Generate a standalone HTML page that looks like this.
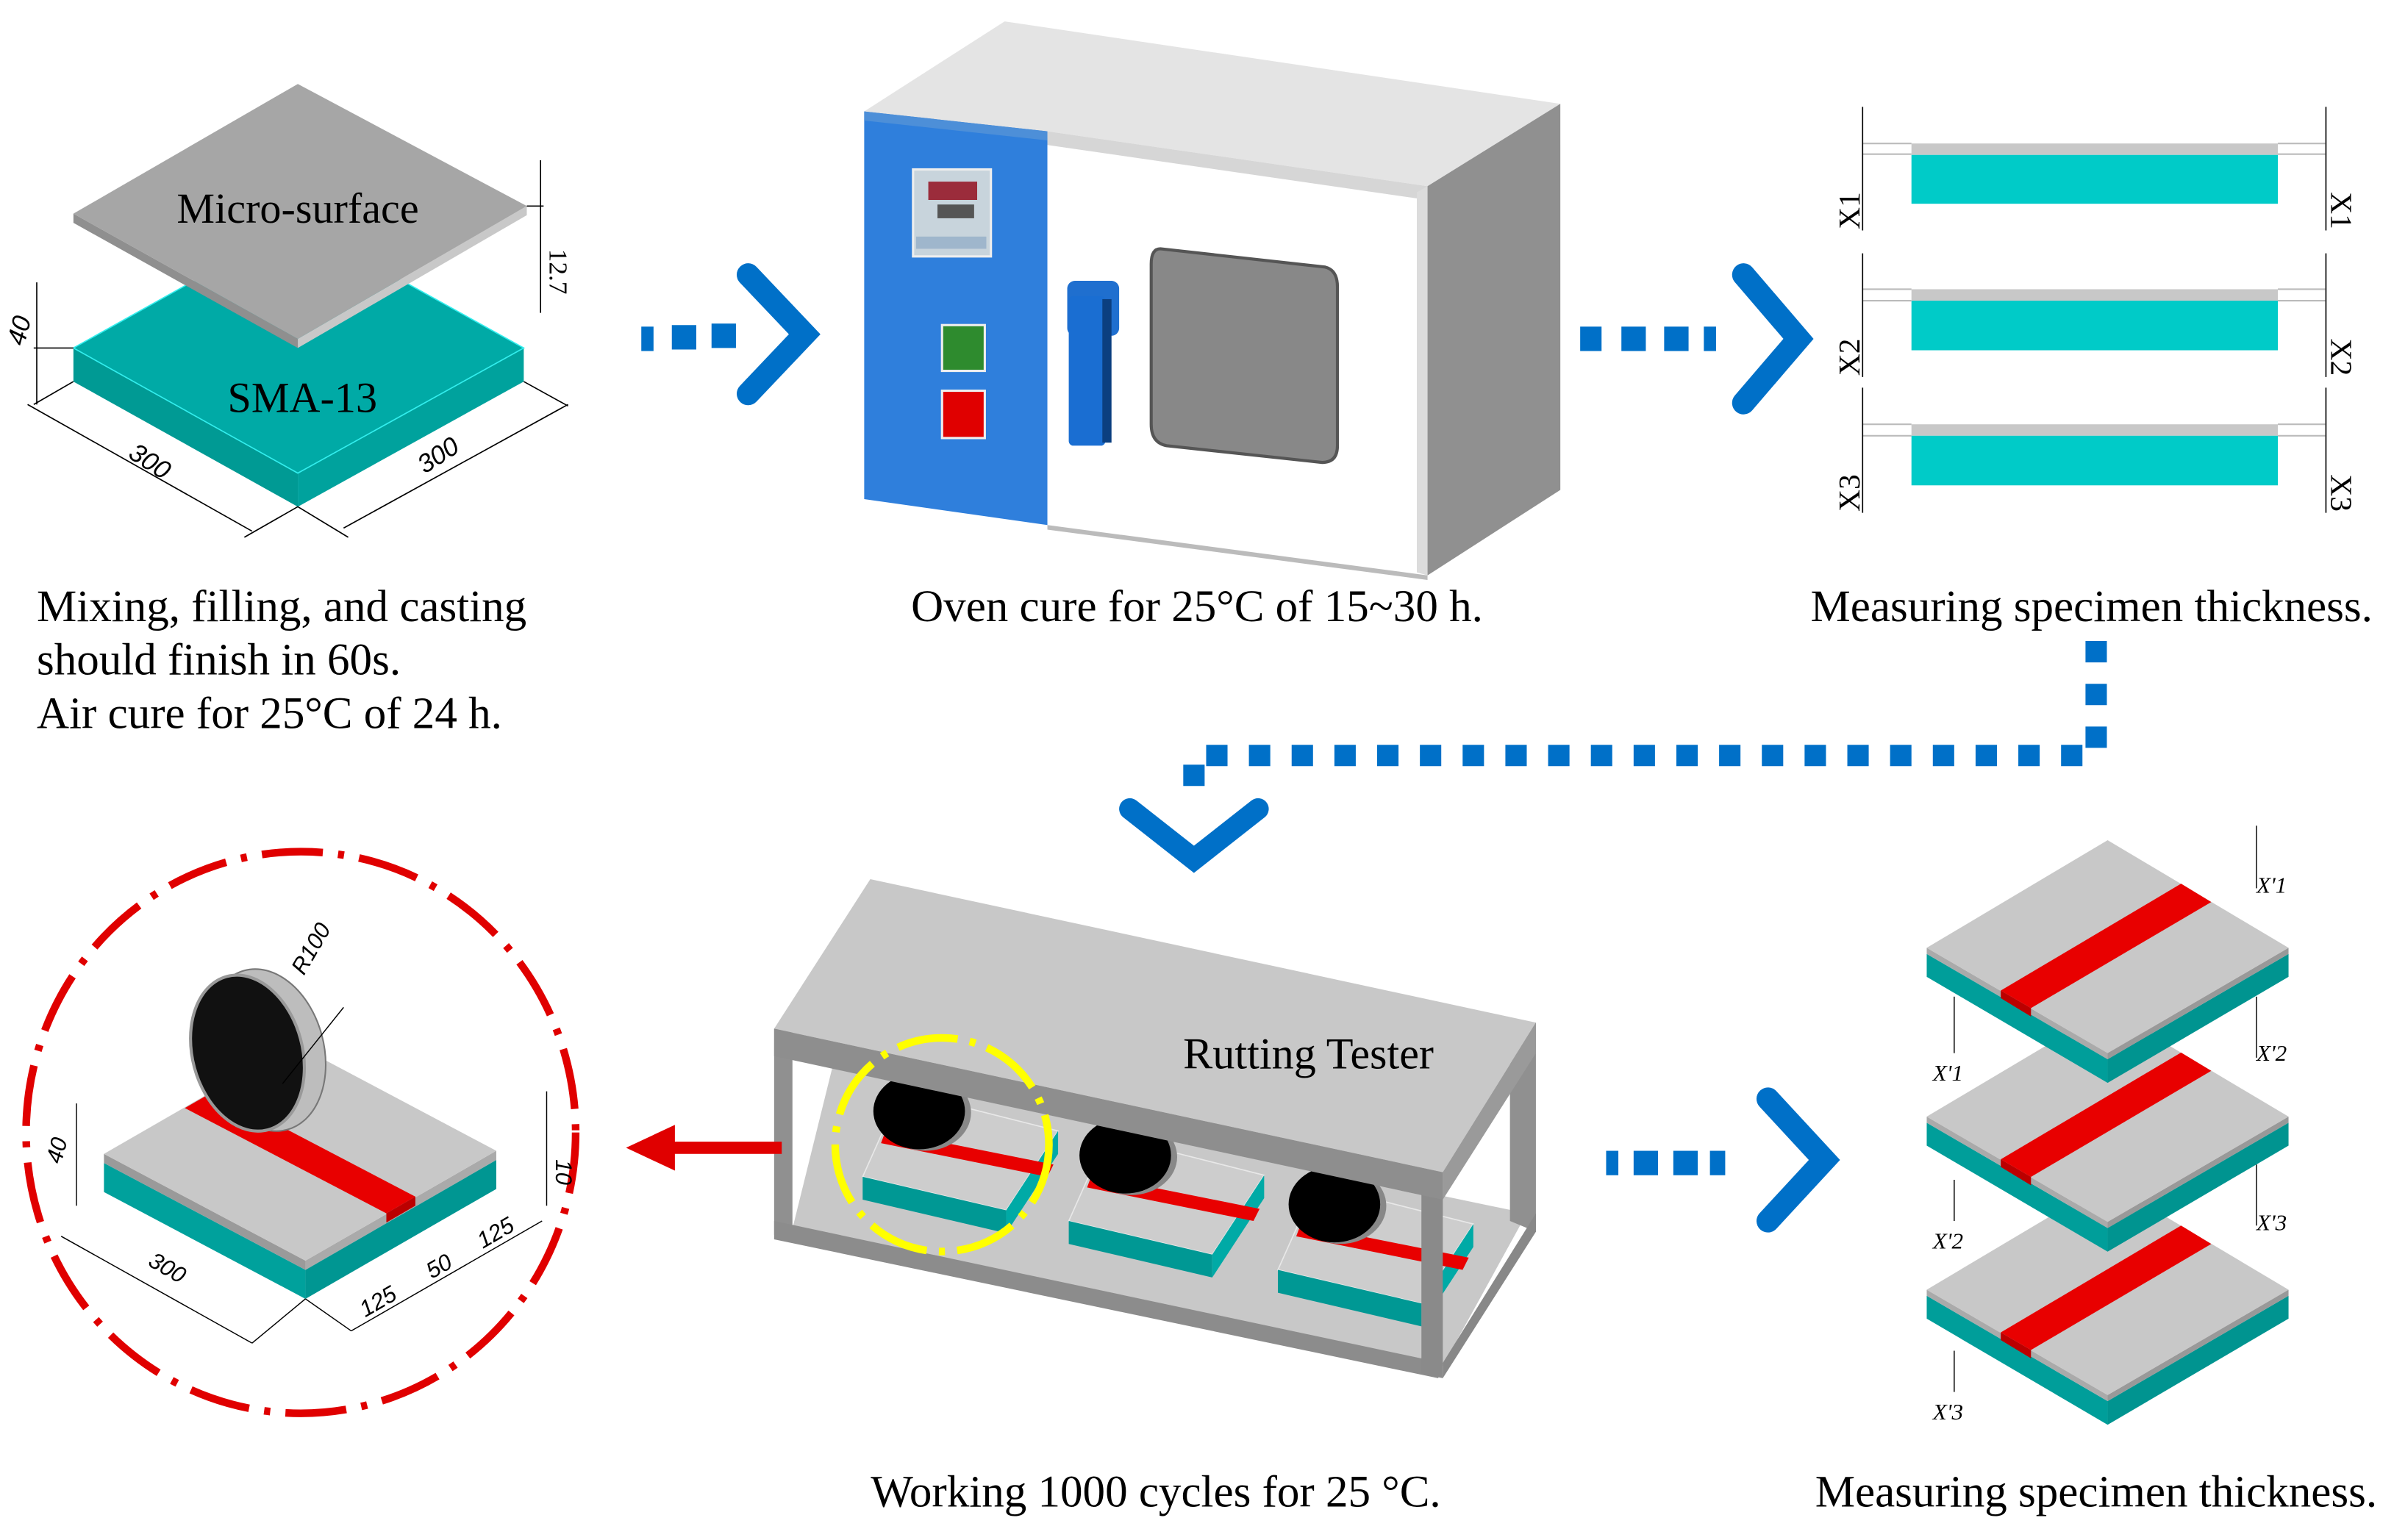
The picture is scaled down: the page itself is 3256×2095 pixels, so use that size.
<!DOCTYPE html>
<html><head><meta charset="utf-8"><style>
html,body{margin:0;padding:0;background:#fff;}
svg{display:block;}
text{font-family:"Liberation Serif",serif;fill:#000;}
.s{font-family:"Liberation Sans",sans-serif;font-style:italic;}
</style></head><body>
<svg width="3256" height="2095" viewBox="0 0 1568 1009" xmlns="http://www.w3.org/2000/svg">
<defs>
<g id="sp">
<polygon points="590,715 693,741 659,793 565,771" fill="#cdcdcd" stroke="#e8e8e8" stroke-width="0.8"/>
<polygon points="565,771 659,793 659,808 565,786" fill="#009894"/>
<polygon points="659,793 693,741 693,756 659,808" fill="#00aaa6"/>
<polygon points="580,741 690,763 686,771 577,749" fill="#e80000"/>
<ellipse cx="606" cy="729" rx="30" ry="25" fill="#888"/>
<ellipse cx="602" cy="728" rx="30" ry="25" fill="#000"/>
</g>
<g id="sl">
<polygon points="1262,625 1380.5,694 1380.5,709.5 1262,640" fill="#009e9a"/>
<polygon points="1380.5,694 1499,625 1499,640 1380.5,709.5" fill="#009490"/>
<polygon points="1262,621 1380.5,690 1380.5,694 1262,625" fill="#aaa"/>
<polygon points="1380.5,690 1499,621 1499,625 1380.5,694" fill="#999"/>
<polygon points="1380.5,550.5 1499,621 1380.5,690 1262,621" fill="#c8c8c8"/>
<polygon points="1428.6,579 1448.4,591 1330.3,660.5 1310.5,649" fill="#e80000"/>
<polygon points="1310.5,649 1330.3,660.5 1330.3,666 1310.5,654" fill="#b00"/>
</g>
</defs>
<rect width="1568" height="1009" fill="#fff"/>

<!-- ===== Top-left specimen ===== -->
<polygon points="48,228 195,310 195,332 48,250" fill="#009a94"/>
<polygon points="195,310 343,228 343,250 195,332" fill="#00a29d"/>
<polygon points="195,146 343,228 195,310 48,228" fill="#00aaa6" stroke="#3ee" stroke-width="0.8"/>
<polygon points="48,140 195,222 195,228 48,146" fill="#8f8f8f"/>
<polygon points="195,222 345,135 345,141 195,228" fill="#c8c8c8"/>
<polygon points="195,55 345,135 195,222 48,140" fill="#a6a6a6"/>
<text x="195" y="146" font-size="28" text-anchor="middle">Micro-surface</text>
<text x="198" y="270" font-size="28" text-anchor="middle">SMA-13</text>
<g stroke="#000" stroke-width="0.8" fill="none">
<line x1="354" y1="105" x2="354" y2="205"/>
<line x1="345" y1="135" x2="356" y2="135"/>
<line x1="24" y1="185" x2="24" y2="265"/>
<line x1="22" y1="265" x2="48" y2="250"/>
<line x1="22" y1="228" x2="48" y2="228"/>
<line x1="18" y1="265" x2="165" y2="348"/>
<line x1="225" y1="346" x2="372" y2="265"/>
<line x1="195" y1="332" x2="160" y2="352"/>
<line x1="195" y1="332" x2="228" y2="352"/>
<line x1="343" y1="250" x2="372" y2="266"/>
</g>
<text x="360" y="178" font-size="17" transform="rotate(90 360 178)" text-anchor="middle">12.7</text>
<text x="18" y="218" font-size="17" transform="rotate(-75 18 218)" text-anchor="middle" class="s">40</text>
<text x="95" y="307" font-size="17" transform="rotate(33 95 307)" text-anchor="middle" class="s">300</text>
<text x="290" y="303" font-size="17" transform="rotate(-33 290 303)" text-anchor="middle" class="s">300</text>

<text x="24" y="407" font-size="29.4">Mixing, filling, and casting</text>
<text x="24" y="442" font-size="29.4">should finish in 60s.</text>
<text x="24" y="477" font-size="29.4">Air cure for 25°C of 24 h.</text>

<!-- arrow 1 -->
<g fill="#0070c8">
<rect x="420" y="214" width="8" height="16"/><rect x="440" y="213" width="16" height="16"/><rect x="466" y="212" width="16" height="16"/>
</g>
<polyline points="490,180 527,219 490,258" fill="none" stroke="#0070c8" stroke-width="15" stroke-linecap="round" stroke-linejoin="miter"/>

<!-- ===== Oven ===== -->
<polygon points="658,14 1022,68 935,122 566,73" fill="#e4e4e4"/>
<polygon points="935,122 1022,68 1022,321 935,377" fill="#909090"/>
<polygon points="686,86 935,122 935,377 686,344" fill="#ffffff"/>
<polygon points="686,86 935,122 928,130 686,95" fill="#d6d6d6"/>
<polygon points="928,126 935,122 935,377 928,375" fill="#dcdcdc"/>
<polygon points="686,344 935,377 935,380 686,347" fill="#bbb"/>
<polygon points="566,73 686,86 686,344 566,327" fill="#2f7fdc"/>
<polygon points="566,73 686,86 686,92 566,79" fill="#4d8fd8"/>
<path d="M760,163 L868,175 Q876,177 876,188 L876,292 Q876,303 866,303 L764,292 Q754,290 754,278 L754,173 Q754,163 760,163Z" fill="#888" stroke="#555" stroke-width="2"/>
<rect x="699" y="184" width="34" height="36" rx="5" fill="#1f6fcf"/>
<rect x="700" y="194" width="24" height="98" rx="3" fill="#1a6ed2"/>
<rect x="722" y="196" width="6" height="94" fill="#0b3f80"/>
<rect x="598" y="111" width="51" height="57" fill="#c8d4dc" stroke="#eee" stroke-width="1.5"/>
<rect x="608" y="119" width="32" height="12" fill="#9b2c3b"/>
<rect x="614" y="134" width="24" height="9" fill="#555"/>
<rect x="600" y="155" width="46" height="8" fill="#9fb6cc"/>
<rect x="617" y="213" width="28" height="30" fill="#2e8b2e" stroke="#eee" stroke-width="1.5"/>
<rect x="617" y="256" width="28" height="31" fill="#e00000" stroke="#eee" stroke-width="1.5"/>
<text x="784" y="407" font-size="29.4" text-anchor="middle">Oven cure for 25°C of 15~30 h.</text>

<!-- arrow 2 -->
<g fill="#0070c8">
<rect x="1035" y="214" width="14" height="16"/><rect x="1062" y="214" width="16" height="16"/><rect x="1090" y="214" width="16" height="16"/><rect x="1116" y="214" width="8" height="16"/>
</g>
<polyline points="1142,180 1178,222 1142,264" fill="none" stroke="#0070c8" stroke-width="15" stroke-linecap="round"/>

<!-- ===== top right bars ===== -->
<g>
<rect x="1252" y="94" width="240" height="7.5" fill="#c8c8c8"/><rect x="1252" y="101.5" width="240" height="32" fill="#00cbc8"/>
<rect x="1252" y="189.5" width="240" height="7.5" fill="#c8c8c8"/><rect x="1252" y="197" width="240" height="32.5" fill="#00cbc8"/>
<rect x="1252" y="278" width="240" height="7.5" fill="#c8c8c8"/><rect x="1252" y="285.5" width="240" height="32.5" fill="#00cbc8"/>
</g>
<g stroke="#bbb" stroke-width="1">
<line x1="1220" y1="94" x2="1252" y2="94"/><line x1="1220" y1="101" x2="1252" y2="101"/>
<line x1="1492" y1="94" x2="1523" y2="94"/><line x1="1492" y1="101" x2="1523" y2="101"/>
<line x1="1220" y1="189.5" x2="1252" y2="189.5"/><line x1="1220" y1="197" x2="1252" y2="197"/>
<line x1="1492" y1="189.5" x2="1523" y2="189.5"/><line x1="1492" y1="197" x2="1523" y2="197"/>
<line x1="1220" y1="278" x2="1252" y2="278"/><line x1="1220" y1="285.5" x2="1252" y2="285.5"/>
<line x1="1492" y1="278" x2="1523" y2="278"/><line x1="1492" y1="285.5" x2="1523" y2="285.5"/>
</g>
<g stroke="#000" stroke-width="0.8">
<line x1="1220" y1="70" x2="1220" y2="151"/><line x1="1523.5" y1="70" x2="1523.5" y2="151"/>
<line x1="1220" y1="166" x2="1220" y2="247"/><line x1="1523.5" y1="166" x2="1523.5" y2="247"/>
<line x1="1220" y1="254" x2="1220" y2="336"/><line x1="1523.5" y1="254" x2="1523.5" y2="336"/>
</g>
<g font-size="20">
<text x="1218" y="138" transform="rotate(-90 1218 138)" text-anchor="middle">X1</text>
<text x="1527" y="138" transform="rotate(90 1527 138)" text-anchor="middle">X1</text>
<text x="1218" y="234" transform="rotate(-90 1218 234)" text-anchor="middle">X2</text>
<text x="1527" y="234" transform="rotate(90 1527 234)" text-anchor="middle">X2</text>
<text x="1218" y="323" transform="rotate(-90 1218 323)" text-anchor="middle">X3</text>
<text x="1527" y="323" transform="rotate(90 1527 323)" text-anchor="middle">X3</text>
</g>
<text x="1370" y="407" font-size="29.4" text-anchor="middle">Measuring specimen thickness.</text>

<!-- dashed connector -->
<path d="M1373,420 L1373,495 L782,495 L782,522" fill="none" stroke="#0070c8" stroke-width="14" stroke-dasharray="14,14"/>
<polyline points="740,530 782,563 824,530" fill="none" stroke="#0070c8" stroke-width="14" stroke-linecap="round"/>

<!-- ===== Rutting tester ===== -->
<polygon points="519,805 545,700 1000,795 945,895" fill="#c8c8c8"/>
<use href="#sp"/>
<use href="#sp" transform="translate(135,29)"/>
<use href="#sp" transform="translate(272,61)"/>
<!-- frame -->
<polygon points="507,674 519,674 519,809 507,809" fill="#909090"/>
<polygon points="507,800 945,893 942,903 507,812" fill="#8c8c8c"/>
<polygon points="989,670 1006,670 1006,807 989,800" fill="#909090"/>
<polygon points="1006,795 945,893 945,903 1006,807" fill="#888"/>
<polygon points="931,768 945,768 945,903 931,900" fill="#8a8a8a"/>
<polygon points="570,576 1006,670 945,768 507,674" fill="#c8c8c8"/>
<polygon points="507,674 945,768 945,786 507,692" fill="#8e8e8e"/>
<polygon points="945,768 1006,670 1006,690 945,786" fill="#9a9a9a"/>
<text x="857" y="700" font-size="29" text-anchor="middle">Rutting Tester</text>
<circle cx="617" cy="750" r="70" fill="none" stroke="#ffff00" stroke-width="5" stroke-dasharray="40,8,4,8"/>
<!-- red arrow -->
<line x1="512" y1="752" x2="438" y2="752" stroke="#e00000" stroke-width="8"/>
<polygon points="410,752 442,737 442,767" fill="#e00000"/>
<text x="757" y="987" font-size="29.4" text-anchor="middle">Working 1000 cycles for 25 °C.</text>

<!-- ===== circle detail ===== -->
<ellipse cx="197" cy="742" rx="180" ry="184" fill="none" stroke="#e00000" stroke-width="5" stroke-dasharray="40,10,4,10"/>
<polygon points="68,762 200,832 200,851 68,781" fill="#00a19c"/>
<polygon points="200,832 325,760 325,779 200,851" fill="#009692"/>
<polygon points="68,756 200,826 200,832 68,762" fill="#9a9a9a"/>
<polygon points="200,826 325,754 325,760 200,832" fill="#aaa"/>
<polygon points="193,684 325,754 200,826 68,756" fill="#c8c8c8"/>
<polygon points="121,726 140,715 272,784 253,795" fill="#e80000"/>
<polygon points="253,795 272,784 272,790 253,801" fill="#b00"/>
<ellipse cx="174" cy="688" rx="38" ry="54" transform="rotate(-15 174 688)" fill="#bdbdbd" stroke="#777" stroke-width="1"/>
<ellipse cx="162" cy="690" rx="36" ry="52" transform="rotate(-15 162 690)" fill="#111" stroke="#999" stroke-width="2"/>
<g stroke="#000" stroke-width="0.7" fill="none">
<line x1="50" y1="723" x2="50" y2="790"/>
<line x1="40" y1="810" x2="165" y2="880"/>
<line x1="230" y1="872" x2="355" y2="800"/>
<line x1="200" y1="851" x2="165" y2="880"/>
<line x1="200" y1="851" x2="230" y2="872"/>
<line x1="358" y1="715" x2="358" y2="790"/>
<line x1="185" y1="710" x2="225" y2="660"/>
</g>
<text x="42" y="755" font-size="15" class="s" transform="rotate(-75 42 755)" text-anchor="middle">40</text>
<text x="107" y="835" font-size="15" class="s" transform="rotate(30 107 835)" text-anchor="middle">300</text>
<text x="250" y="857" font-size="15" class="s" transform="rotate(-30 250 857)" text-anchor="middle">125</text>
<text x="290" y="834" font-size="15" class="s" transform="rotate(-30 290 834)" text-anchor="middle">50</text>
<text x="327" y="812" font-size="15" class="s" transform="rotate(-30 327 812)" text-anchor="middle">125</text>
<text x="364" y="768" font-size="15" class="s" transform="rotate(90 364 768)" text-anchor="middle">10</text>
<text x="208" y="624" font-size="15" class="s" transform="rotate(-60 208 624)" text-anchor="middle">R100</text>

<!-- arrow 3 -->
<g fill="#0070c8">
<rect x="1052" y="754" width="8" height="16"/><rect x="1070" y="754" width="16" height="16"/><rect x="1096" y="754" width="16" height="16"/><rect x="1120" y="754" width="10" height="16"/>
</g>
<polyline points="1158,720 1195,760 1158,800" fill="none" stroke="#0070c8" stroke-width="15" stroke-linecap="round"/>

<!-- ===== stacked slabs (bottom first) ===== -->
<use href="#sl" transform="translate(0,224)"/>
<use href="#sl" transform="translate(0,110.6)"/>
<use href="#sl"/>
<g stroke="#000" stroke-width="0.7">
<line x1="1478" y1="541" x2="1478" y2="582"/><line x1="1280" y1="653" x2="1280" y2="690"/>
<line x1="1478" y1="653" x2="1478" y2="693"/><line x1="1280" y1="773" x2="1280" y2="800"/>
<line x1="1478" y1="763" x2="1478" y2="803"/><line x1="1280" y1="885" x2="1280" y2="912"/>
</g>
<g font-size="15" class="s">
<text x="1478" y="585">X'1</text><text x="1266" y="708">X'1</text>
<text x="1478" y="695">X'2</text><text x="1266" y="818">X'2</text>
<text x="1478" y="806">X'3</text><text x="1266" y="930">X'3</text>
</g>
<text x="1373" y="987" font-size="29.4" text-anchor="middle">Measuring specimen thickness.</text>
</svg>
</body></html>
